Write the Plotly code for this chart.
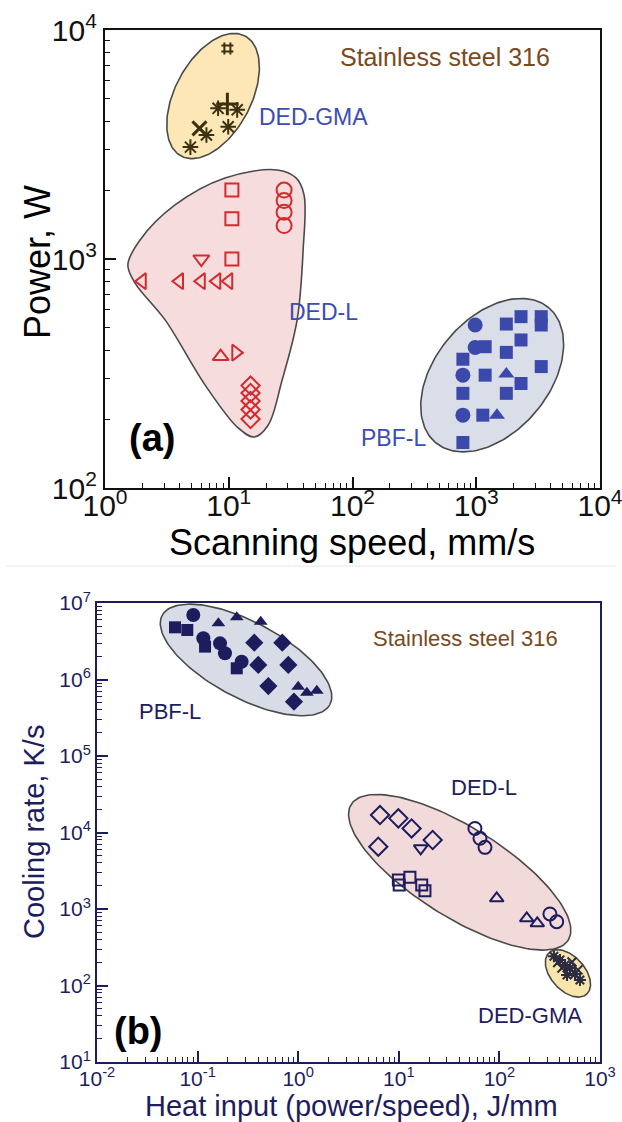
import numpy as np
import plotly.graph_objects as go

W, H = 622, 1122
FONT = "Liberation Sans, Arial, Helvetica, sans-serif"

# ---------------- Panel (a): scanning speed (mm/s) vs power (W) ----------------
gma_a_hash_speed = [9.75]
gma_a_hash_power = [8300]
gma_a_plus_speed = [9.75]
gma_a_plus_power = [4750]
gma_a_x_speed = [5.8]
gma_a_x_power = [3720]
gma_a_star_speed = [8.2, 11.7, 9.9, 6.6, 4.9]
gma_a_star_power = [4550, 4480, 3780, 3480, 3080]

dedl_a_sq_speed = [10.6, 10.6, 10.6]
dedl_a_sq_power = [2000, 1500, 1000]
dedl_a_circ_speed = [28, 28, 28, 28]
dedl_a_circ_power = [2000, 1800, 1600, 1400]
dedl_a_tdown_speed = [6]
dedl_a_tdown_power = [1000]
dedl_a_tleft_speed = [2, 4, 6, 8, 10]
dedl_a_tleft_power = [800, 800, 800, 800, 800]
dedl_a_tup_speed = [8.6]
dedl_a_tup_power = [375]
dedl_a_tright_speed = [11.4]
dedl_a_tright_power = [390]
dedl_a_diam_speed = [15, 15, 15, 15, 15]
dedl_a_diam_power = [280, 260, 240, 220, 200]

pbf_a_circ_speed = [980, 980, 780, 780]
pbf_a_circ_power = [515, 411, 311, 208]
pbf_a_sq_speed = [1750, 2300, 3350, 3350, 2300, 1750, 1180, 780, 1180, 3350, 2300, 1750, 780, 1130, 780]
pbf_a_sq_power = [520, 560, 560, 515, 443, 391, 414, 365, 311, 339, 286, 259, 259, 208, 158]
pbf_a_tri_speed = [1750, 1470]
pbf_a_tri_power = [315, 208]

# outline of the DED-L region in panel (a) (speed, power)
dedl_a_zone_speed = [39.9, 35.7, 27.0, 20.8, 16.0, 11.9, 6.43, 3.06, 1.75, 1.53, 1.92, 3.68, 9.33, 24.6, 35.0, 40.6, 39.9]
dedl_a_zone_power = [1094, 542, 296, 188, 167, 183, 282, 542, 785, 942, 1211, 1722, 2259, 2449, 2259, 1903, 1094]

# ---------------- Panel (b): heat input (J/mm) vs cooling rate (K/s) ----------------
pbf_b_sq_heat = [0.0596, 0.079, 0.1186, 0.245]
pbf_b_sq_rate = [4.81e6, 4.44e6, 2.69e6, 1.40e6]
pbf_b_circ_heat = [0.0906, 0.114, 0.167, 0.187, 0.274]
pbf_b_circ_rate = [6.97e6, 3.46e6, 2.97e6, 2.20e6, 1.71e6]
pbf_b_tri_heat = [0.161, 0.245, 0.424, 1.0, 1.22, 1.53]
pbf_b_tri_rate = [5.43e6, 6.50e6, 5.70e6, 8.05e5, 6.72e5, 7.14e5]
pbf_b_diam_heat = [0.366, 0.695, 0.401, 0.798, 0.505, 0.908]
pbf_b_diam_rate = [3.03e6, 3.03e6, 1.55e6, 1.55e6, 8.2e5, 5.13e5]

dedl_b_diam_heat = [6.5, 9.9, 13.4, 21.7, 6.25]
dedl_b_diam_rate = [1.69e4, 1.53e4, 1.13e4, 7.98e3, 6.52e3]
dedl_b_tdown_heat = [16.5]
dedl_b_tdown_rate = [6.21e3]
dedl_b_sq_heat = [9.9, 10.1, 12.9, 16.9, 18.2]
dedl_b_sq_rate = [2.39e3, 2.06e3, 2.6e3, 2.06e3, 1.73e3]
dedl_b_circ_heat = [57.1, 64.1, 71.9, 318, 371]
dedl_b_circ_rate = [1.13e4, 8.4e3, 6.4e3, 861, 682]
dedl_b_tup_heat = [94, 187, 238]
dedl_b_tup_rate = [1380, 755, 650]

gma_b_star_heat = [348, 400, 449, 503, 564, 632, 470]
gma_b_star_rate = [241, 215, 185, 169, 141, 118, 137]
gma_b_x_heat = [419, 527, 604, 380]
gma_b_x_rate = [169, 203, 160, 200]

# tick labels
a_x_ticks = [1, 10, 100, 1000, 10000]
a_x_text = ["10<sup>0</sup>", "10<sup>1</sup>", "10<sup>2</sup>", "10<sup>3</sup>", "10<sup>4</sup>"]
a_y_ticks = [100, 1000, 10000]
a_y_text = ["10<sup>2</sup>", "10<sup>3</sup>", "10<sup>4</sup>"]
b_x_ticks = [0.01, 0.1, 1, 10, 100, 1000]
b_x_text = ["10<sup>-2</sup>", "10<sup>-1</sup>", "10<sup>0</sup>", "10<sup>1</sup>", "10<sup>2</sup>", "10<sup>3</sup>"]
b_y_ticks = [10, 100, 1e3, 1e4, 1e5, 1e6, 1e7]
b_y_text = ["10<sup>1</sup>", "10<sup>2</sup>", "10<sup>3</sup>", "10<sup>4</sup>", "10<sup>5</sup>", "10<sup>6</sup>", "10<sup>7</sup>"]

# ---------------- layout geometry (reference pixels) ----------------
A_FRAME = (105, 600, 30, 488)     # left, right, top, bottom
B_FRAME = (97, 600, 603, 1062)
A_XR, A_YR = [0, 4], [2, 4]
B_XR, B_YR = [-2, 3], [1, 7]


def px_x(px):
    return px / W


def px_y(py):
    return 1 - py / H


def dom_x(f):
    return [px_x(f[0]), px_x(f[1])]


def dom_y(f):
    return [px_y(f[3]), px_y(f[2])]


def ellipse(cx, cy, a_px, b_px, ang_deg, frame, xr, yr, n=160):
    kx = (frame[1] - frame[0]) / (xr[1] - xr[0])
    ky = (frame[3] - frame[2]) / (yr[1] - yr[0])
    t = np.linspace(0, 2 * np.pi, n)
    th = np.radians(ang_deg)
    u = a_px * np.cos(t) * np.cos(th) - b_px * np.sin(t) * np.sin(th)
    v = a_px * np.cos(t) * np.sin(th) + b_px * np.sin(t) * np.cos(th)
    return 10 ** (np.log10(cx) + u / kx), 10 ** (np.log10(cy) + v / ky)


def minor_vals(lo, hi):
    out = []
    for d in range(lo, hi):
        for m in range(2, 10):
            out.append(m * 10.0 ** d)
    return out


fig = go.Figure()

OUTLINE = "#4a4a4a"


def zone(x, y, fill, xa, ya, spline=False):
    fig.add_trace(go.Scatter(x=x, y=y, mode="lines", fill="toself", fillcolor=fill,
                             line=dict(color=OUTLINE, width=1.6, shape="spline" if spline else "linear",
                                       smoothing=1.0),
                             xaxis=xa, yaxis=ya, hoverinfo="skip", showlegend=False))


def pts(x, y, sym, color, size, xa, ya, lw=2):
    fig.add_trace(go.Scatter(x=x, y=y, mode="markers",
                             marker=dict(symbol=sym, size=size, color=color,
                                         line=dict(color=color, width=lw)),
                             xaxis=xa, yaxis=ya, showlegend=False))


# ---- panel (a) zones
ex, ey = ellipse(7.47, 5150, 68, 38, 62, A_FRAME, A_XR, A_YR)
zone(ex, ey, "#fde7b6", "x", "y")
zone(dedl_a_zone_speed, dedl_a_zone_power, "#f6dcdc", "x", "y", spline=True)
ex, ey = ellipse(1345, 311, 88, 57, 50, A_FRAME, A_XR, A_YR)
zone(ex, ey, "#d9dee9", "x", "y")

# ---- panel (a) markers
GMA_C = "#3b3110"
RED = "#d42a2e"
BLUE = "#3a49aa"
pts(gma_a_hash_speed, gma_a_hash_power, "hash-open", GMA_C, 12, "x", "y")
pts(gma_a_plus_speed, gma_a_plus_power, "cross-thin-open", GMA_C, 16, "x", "y", lw=3)
pts(gma_a_x_speed, gma_a_x_power, "x-thin-open", GMA_C, 14, "x", "y", lw=3)
pts(gma_a_star_speed, gma_a_star_power, "asterisk-open", GMA_C, 13, "x", "y")

pts(dedl_a_sq_speed, dedl_a_sq_power, "square-open", RED, 13, "x", "y")
pts(dedl_a_circ_speed, dedl_a_circ_power, "circle-open", RED, 15, "x", "y")
pts(dedl_a_tdown_speed, dedl_a_tdown_power, "triangle-down-open", RED, 14, "x", "y")
pts(dedl_a_tleft_speed, dedl_a_tleft_power, "triangle-left-open", RED, 14, "x", "y")
pts(dedl_a_tup_speed, dedl_a_tup_power, "triangle-up-open", RED, 14, "x", "y")
pts(dedl_a_tright_speed, dedl_a_tright_power, "triangle-right-open", RED, 14, "x", "y")
pts(dedl_a_diam_speed, dedl_a_diam_power, "diamond-open", RED, 14, "x", "y")

pts(pbf_a_circ_speed, pbf_a_circ_power, "circle", BLUE, 15, "x", "y", lw=0)
pts(pbf_a_sq_speed, pbf_a_sq_power, "square", BLUE, 13, "x", "y", lw=0)
pts(pbf_a_tri_speed, pbf_a_tri_power, "triangle-up", BLUE, 14, "x", "y", lw=0)

# ---- panel (b) zones
ex, ey = ellipse(0.303, 1.8e6, 95, 38, -28, B_FRAME, B_XR, B_YR)
zone(ex, ey, "#d7dce7", "x2", "y2")
ex, ey = ellipse(40.3, 3020, 128, 45, -32, B_FRAME, B_XR, B_YR)
zone(ex, ey, "#f2dadb", "x2", "y2")
ex, ey = ellipse(480, 144, 28, 17, -48, B_FRAME, B_XR, B_YR)
zone(ex, ey, "#f8e5ac", "x2", "y2")

# ---- panel (b) markers
NAVY = "#1d1d5e"
pts(pbf_b_sq_heat, pbf_b_sq_rate, "square", NAVY, 12, "x2", "y2", lw=0)
pts(pbf_b_circ_heat, pbf_b_circ_rate, "circle", NAVY, 14, "x2", "y2", lw=0)
pts(pbf_b_tri_heat, pbf_b_tri_rate, "triangle-up", NAVY, 12, "x2", "y2", lw=0)
pts(pbf_b_diam_heat, pbf_b_diam_rate, "diamond", NAVY, 14, "x2", "y2", lw=0)

pts(dedl_b_diam_heat, dedl_b_diam_rate, "diamond-open", NAVY, 14, "x2", "y2")
pts(dedl_b_tdown_heat, dedl_b_tdown_rate, "triangle-down-open", NAVY, 12, "x2", "y2")
pts(dedl_b_sq_heat, dedl_b_sq_rate, "square-open", NAVY, 11, "x2", "y2")
pts(dedl_b_circ_heat, dedl_b_circ_rate, "circle-open", NAVY, 13, "x2", "y2")
pts(dedl_b_tup_heat, dedl_b_tup_rate, "triangle-up-open", NAVY, 12, "x2", "y2")

pts(gma_b_star_heat, gma_b_star_rate, "asterisk-open", "#2a2a40", 10, "x2", "y2")
pts(gma_b_x_heat, gma_b_x_rate, "x-thin-open", "#2a2a40", 9, "x2", "y2")


def axis(color, lw, fsize, tv, tt, mv, frame, rng, anchor, horizontal, standoff=0):
    return dict(type="log", range=rng, domain=dom_x(frame) if horizontal else dom_y(frame),
                anchor=anchor, tickmode="array", tickvals=tv, ticktext=tt,
                ticks="inside", ticklen=11, tickwidth=lw, tickcolor=color,
                minor=dict(tickmode="array", tickvals=mv, ticks="inside", ticklen=5,
                           tickwidth=1, tickcolor=color, showgrid=False),
                showline=True, linecolor=color, linewidth=lw, mirror=True,
                showgrid=False, zeroline=False, automargin=False,
                ticklabelstandoff=standoff, ticklabeloverflow="allow",
                tickfont=dict(family=FONT, size=fsize, color=color))


BLACK = "#111111"
fig.update_layout(
    width=W, height=H, margin=dict(l=0, r=0, t=0, b=0, autoexpand=False),
    paper_bgcolor="white", plot_bgcolor="white", showlegend=False,
    xaxis=axis(BLACK, 2.2, 30, a_x_ticks, a_x_text, minor_vals(0, 4), A_FRAME, A_XR, "y", True, -10),
    yaxis=axis(BLACK, 2.2, 30, a_y_ticks, a_y_text, minor_vals(2, 4), A_FRAME, A_YR, "x", False),
    xaxis2=axis(NAVY, 2, 21, b_x_ticks, b_x_text, minor_vals(-2, 3), B_FRAME, B_XR, "y2", True, -3),
    yaxis2=axis(NAVY, 2, 21, b_y_ticks, b_y_text, minor_vals(1, 7), B_FRAME, B_YR, "x2", False),
)


def label(text, px, py, size, color, bold=False, angle=0):
    fig.add_annotation(text=f"<b>{text}</b>" if bold else text, x=px_x(px), y=px_y(py),
                       xref="paper", yref="paper", showarrow=False, textangle=angle,
                       xanchor="center", yanchor="middle",
                       font=dict(family=FONT, size=size, color=color))


TXT_BLUE = "#3b4db5"
BROWN = "#7a4a1e"
label("Stainless steel 316", 445, 57, 25, BROWN)
label("DED-GMA", 314, 117, 23, TXT_BLUE)
label("DED-L", 323, 312, 23, TXT_BLUE)
label("PBF-L", 393, 438, 23, TXT_BLUE)
label("(a)", 152, 438, 38, "#000000", bold=True)
label("Scanning speed, mm/s", 352, 543, 36, "#000000")
label("Power, W", 37, 262, 36, "#000000", angle=-90)

label("Stainless steel 316", 465, 639, 22, BROWN)
label("PBF-L", 170, 711, 22, NAVY)
label("DED-L", 484, 787, 22, NAVY)
label("DED-GMA", 530, 1015, 22, NAVY)
label("(b)", 138, 1031, 38, "#000000", bold=True)
label("Heat input (power/speed), J/mm", 351, 1106, 29, NAVY)
label("Cooling rate, K/s", 34, 832, 29, NAVY, angle=-90)

fig.add_shape(type="line", xref="paper", yref="paper", x0=0.01, x1=0.99,
              y0=px_y(566), y1=px_y(566), line=dict(color="#e6e6e6", width=1))

fig.write_html("out.html", config={"displayModeBar": False},
               post_script="document.body.style.margin='0px';")
